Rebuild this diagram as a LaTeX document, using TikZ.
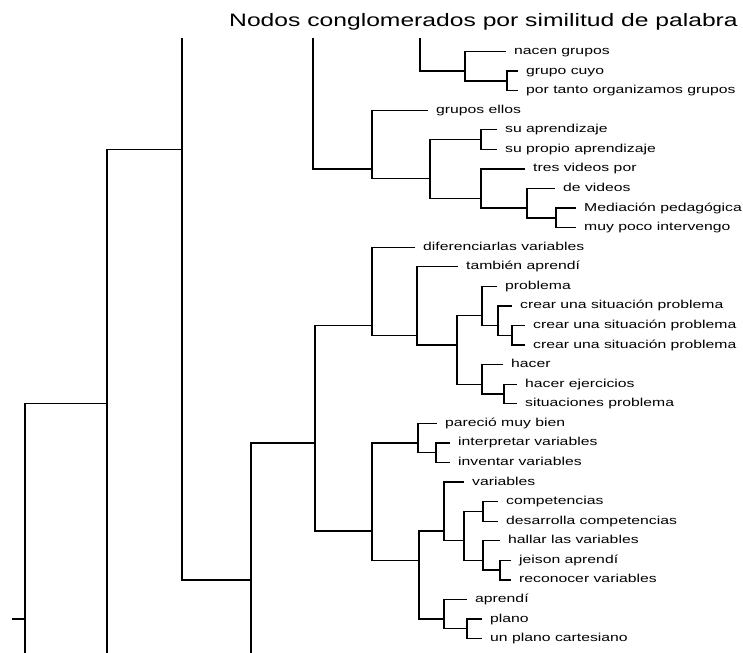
\documentclass[tikz,border=0pt]{standalone}
\usepackage{fontspec}
\newfontfamily\dendrofont[FakeStretch=1.37]{Liberation Sans}

\begin{document}
\begin{tikzpicture}[
    x=1bp, y=-19.57bp,
    branch/.style={draw, line width=1.3bp},
    leaf/.style={anchor=west, inner xsep=8bp, inner ysep=0pt, text height=8bp, text depth=2bp, font=\dendrofont\fontsize{11.5bp}{13bp}\selectfont},
]
    \useasboundingbox (0,-2.6316) rectangle (743,30.685);
    \fill[white] (0,-2.6316) rectangle (743,30.685);

    % Title
    \node[anchor=base, inner sep=0pt, font=\dendrofont\fontsize{18bp}{20bp}\selectfont] (titulo) at (483.5,-1.30) {Nodos conglomerados por similitud de palabra};

    % Leaves, one row each
    \node[leaf] (nacen) at (506,0) {nacen grupos};
    \node[leaf] (grupocuyo) at (518,1) {grupo cuyo};
    \node[leaf] (portanto) at (518,2) {por tanto organizamos grupos};
    \node[leaf] (gruposellos) at (428,3) {grupos ellos};
    \node[leaf] (suaprendizaje) at (497,4) {su aprendizaje};
    \node[leaf] (supropio) at (497,5) {su propio aprendizaje};
    \node[leaf] (tresvideos) at (525,6) {tres videos por};
    \node[leaf] (devideos) at (555,7) {de videos};
    \node[leaf] (mediacion) at (576,8) {Mediación pedagógica};
    \node[leaf] (muypoco) at (576,9) {muy poco intervengo};
    \node[leaf] (diferenciarlas) at (415,10) {diferenciarlas variables};
    \node[leaf] (tambien) at (458,11) {también aprendí};
    \node[leaf] (problema) at (497,12) {problema};
    \node[leaf] (crear1) at (512,13) {crear una situación problema};
    \node[leaf] (crear2) at (525,14) {crear una situación problema};
    \node[leaf] (crear3) at (525,15) {crear una situación problema};
    \node[leaf] (hacer) at (503,16) {hacer};
    \node[leaf] (hacerej) at (517,17) {hacer ejercicios};
    \node[leaf] (situaciones) at (517,18) {situaciones problema};
    \node[leaf] (parecio) at (437,19) {pareció muy bien};
    \node[leaf] (interpretar) at (450,20) {interpretar variables};
    \node[leaf] (inventar) at (450,21) {inventar variables};
    \node[leaf] (variables) at (464,22) {variables};
    \node[leaf] (competencias) at (498,23) {competencias};
    \node[leaf] (desarrolla) at (498,24) {desarrolla competencias};
    \node[leaf] (hallar) at (500,25) {hallar las variables};
    \node[leaf] (jeison) at (511,26) {jeison aprendí};
    \node[leaf] (reconocer) at (511,27) {reconocer variables};
    \node[leaf] (aprendi) at (467,28) {aprendí};
    \node[leaf] (plano) at (482,29) {plano};
    \node[leaf] (unplano) at (482,30) {un plano cartesiano};

    % Joins (height, mean row of the leaves below)
    \coordinate (jcuyo) at (507,1.5);
    \coordinate (jnacen) at (465,1);
    \coordinate (jpropio) at (481,4.5);
    \coordinate (jmed) at (556,8.5);
    \coordinate (jdevideos) at (527,8);
    \coordinate (jtres) at (481,7.5);
    \coordinate (japrendizaje) at (430,6.5);
    \coordinate (jellos) at (372,6);
    \coordinate (jcrear2) at (512,14.5);
    \coordinate (jcrear1) at (498,14);
    \coordinate (jproblema) at (482,13.5);
    \coordinate (jejercicios) at (504,17.5);
    \coordinate (jhacer) at (482,17);
    \coordinate (jsituacion) at (457,15);
    \coordinate (jtambien) at (417,14.5);
    \coordinate (jdiferenciar) at (372,14);
    \coordinate (jinventar) at (436,20.5);
    \coordinate (jparecio) at (418,20);
    \coordinate (jcompetencias) at (483,23.5);
    \coordinate (jjeison) at (500,26.5);
    \coordinate (jhallar) at (483,26);
    \coordinate (jdesarrolla) at (464,25);
    \coordinate (jvariables) at (444,24.5);
    \coordinate (jplano) at (467,29.5);
    \coordinate (japrendi) at (444,29);
    \coordinate (jvarapr) at (419,26);
    \coordinate (jbajo) at (372,24.5);
    \coordinate (jmitad) at (315,20);
    \coordinate (j251) at (251,27);
    \coordinate (j182) at (182,5);
    \coordinate (j107) at (107,18);
    \coordinate (j25) at (25,29);

    % Branches cut off by the frame
    \coordinate (arriba420) at (420,-0.69);
    \coordinate (arriba313) at (313,-0.69);
    \coordinate (arriba182) at (182,-0.69);
    \coordinate (abajo251) at (251,30.8);
    \coordinate (abajo107) at (107,30.8);
    \coordinate (abajo25) at (25,30.8);
    \coordinate (izq12) at (12,29);

    % Trunk
    \draw[branch] (izq12) -- (j25);
    \draw[branch] (j25) |- (j107);
    \draw[branch] (j25) -- (abajo25);
    \draw[branch] (j107) |- (j182);
    \draw[branch] (j107) -- (abajo107);
    \draw[branch] (j182) -- (arriba182);
    \draw[branch] (j182) |- (j251);
    \draw[branch] (j251) |- (jmitad);
    \draw[branch] (j251) -- (abajo251);

    % Upper group
    \draw[branch] (arriba420) |- (jnacen);
    \draw[branch] (jnacen) |- (nacen.west);
    \draw[branch] (jnacen) |- (jcuyo);
    \draw[branch] (jcuyo) |- (grupocuyo.west);
    \draw[branch] (jcuyo) |- (portanto.west);
    \draw[branch] (arriba313) |- (jellos);
    \draw[branch] (jellos) |- (gruposellos.west);
    \draw[branch] (jellos) |- (japrendizaje);
    \draw[branch] (japrendizaje) |- (jpropio);
    \draw[branch] (jpropio) |- (suaprendizaje.west);
    \draw[branch] (jpropio) |- (supropio.west);
    \draw[branch] (japrendizaje) |- (jtres);
    \draw[branch] (jtres) |- (tresvideos.west);
    \draw[branch] (jtres) |- (jdevideos);
    \draw[branch] (jdevideos) |- (devideos.west);
    \draw[branch] (jdevideos) |- (jmed);
    \draw[branch] (jmed) |- (mediacion.west);
    \draw[branch] (jmed) |- (muypoco.west);

    % Middle group
    \draw[branch] (jmitad) |- (jdiferenciar);
    \draw[branch] (jdiferenciar) |- (diferenciarlas.west);
    \draw[branch] (jdiferenciar) |- (jtambien);
    \draw[branch] (jtambien) |- (tambien.west);
    \draw[branch] (jtambien) |- (jsituacion);
    \draw[branch] (jsituacion) |- (jproblema);
    \draw[branch] (jproblema) |- (problema.west);
    \draw[branch] (jproblema) |- (jcrear1);
    \draw[branch] (jcrear1) |- (crear1.west);
    \draw[branch] (jcrear1) |- (jcrear2);
    \draw[branch] (jcrear2) |- (crear2.west);
    \draw[branch] (jcrear2) |- (crear3.west);
    \draw[branch] (jsituacion) |- (jhacer);
    \draw[branch] (jhacer) |- (hacer.west);
    \draw[branch] (jhacer) |- (jejercicios);
    \draw[branch] (jejercicios) |- (hacerej.west);
    \draw[branch] (jejercicios) |- (situaciones.west);

    % Lower group
    \draw[branch] (jmitad) |- (jbajo);
    \draw[branch] (jbajo) |- (jparecio);
    \draw[branch] (jparecio) |- (parecio.west);
    \draw[branch] (jparecio) |- (jinventar);
    \draw[branch] (jinventar) |- (interpretar.west);
    \draw[branch] (jinventar) |- (inventar.west);
    \draw[branch] (jbajo) |- (jvarapr);
    \draw[branch] (jvarapr) |- (jvariables);
    \draw[branch] (jvariables) |- (variables.west);
    \draw[branch] (jvariables) |- (jdesarrolla);
    \draw[branch] (jdesarrolla) |- (jcompetencias);
    \draw[branch] (jcompetencias) |- (competencias.west);
    \draw[branch] (jcompetencias) |- (desarrolla.west);
    \draw[branch] (jdesarrolla) |- (jhallar);
    \draw[branch] (jhallar) |- (hallar.west);
    \draw[branch] (jhallar) |- (jjeison);
    \draw[branch] (jjeison) |- (jeison.west);
    \draw[branch] (jjeison) |- (reconocer.west);
    \draw[branch] (jvarapr) |- (japrendi);
    \draw[branch] (japrendi) |- (aprendi.west);
    \draw[branch] (japrendi) |- (jplano);
    \draw[branch] (jplano) |- (plano.west);
    \draw[branch] (jplano) |- (unplano.west);
\end{tikzpicture}
\end{document}
